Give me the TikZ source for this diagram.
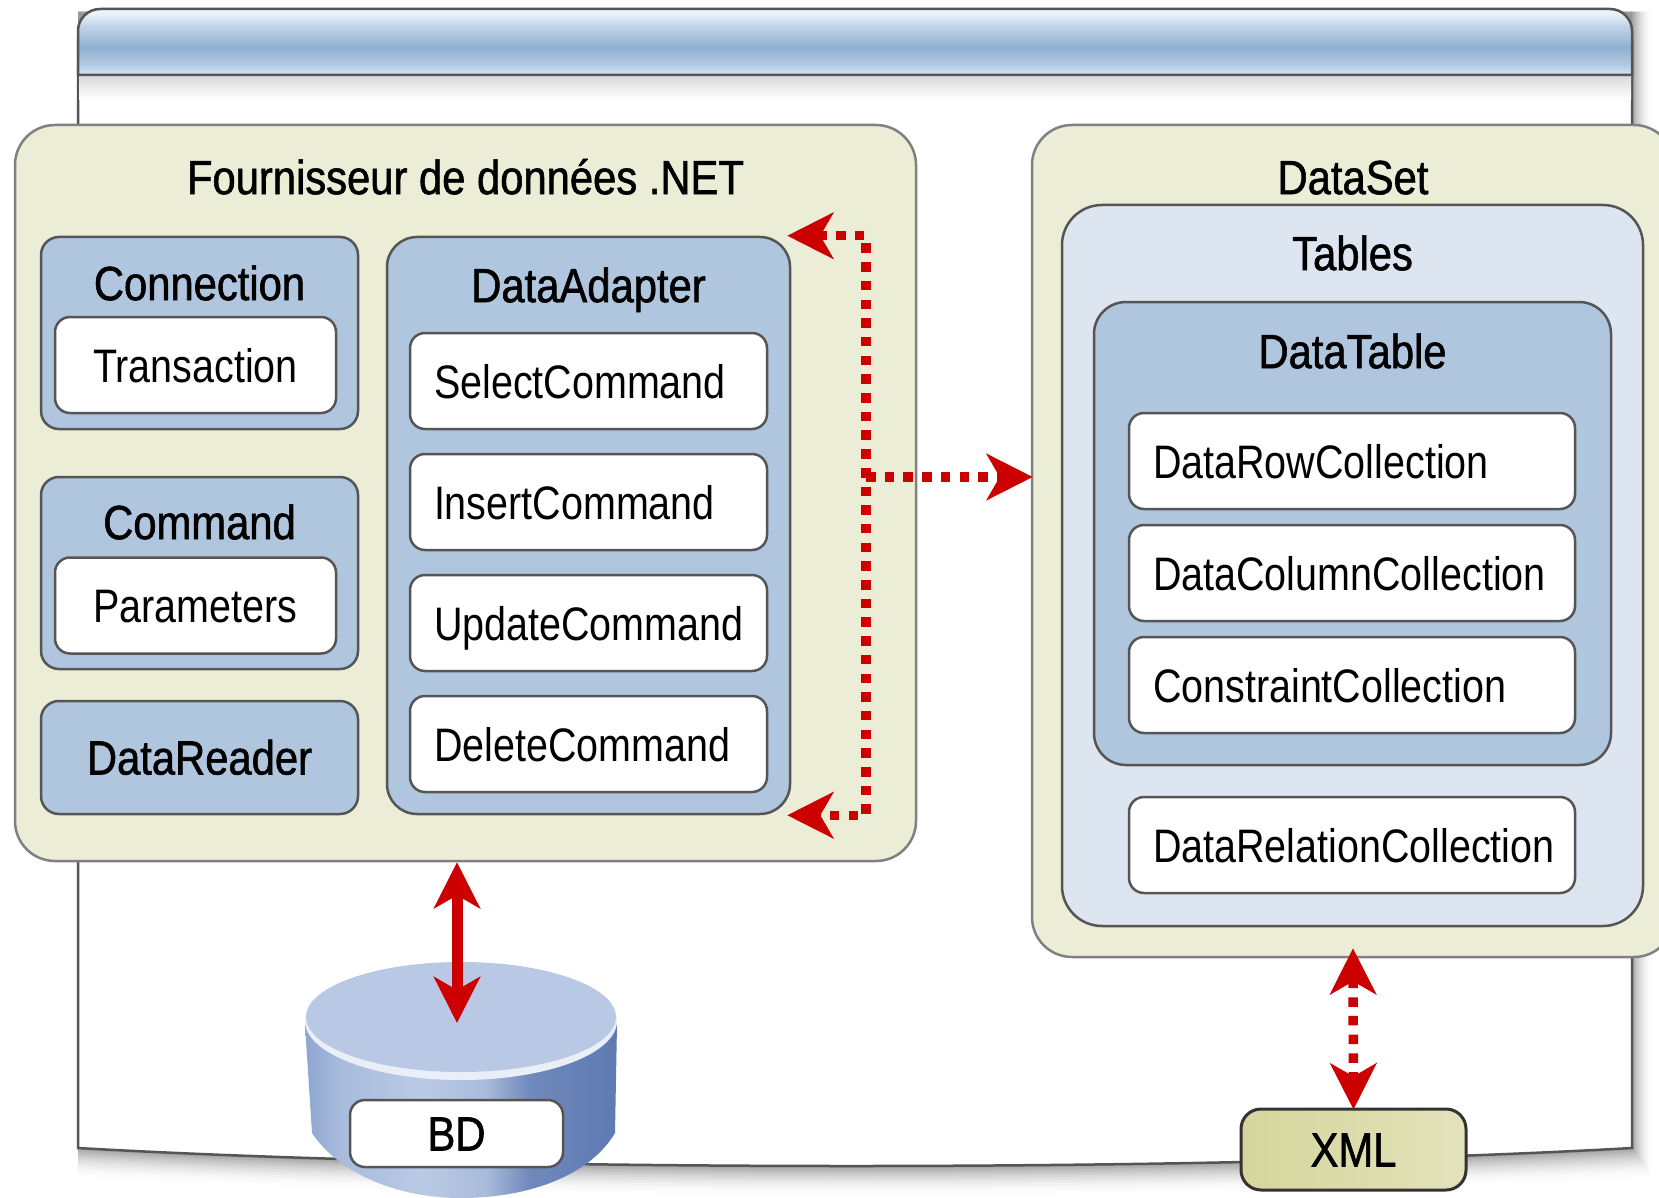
\documentclass[tikz,border=0pt]{standalone}
\usepackage{fontspec}
\setmainfont[FakeStretch=0.84]{Liberation Sans}
\newfontfamily\headfont[FakeStretch=0.87,FakeBold=1.2]{Liberation Sans}
\usepackage{tikz}
\usetikzlibrary{arrows.meta,positioning}
\definecolor{provgreen}{HTML}{EBEDD6}
\definecolor{boxblue}{HTML}{B0C6DF}
\definecolor{tablesblue}{HTML}{DDE5F0}
\definecolor{flowred}{HTML}{CC0000}
\definecolor{rimgray}{HTML}{808080}
\definecolor{edgegray}{HTML}{555555}
\definecolor{dbface}{HTML}{B9C9E5}
\definecolor{xmlleft}{HTML}{D5D59C}
\definecolor{xmlright}{HTML}{E2E3BB}
\definecolor{dbA}{HTML}{8EA6D0}
\definecolor{dbB}{HTML}{A9BCDD}
\definecolor{dbC}{HTML}{BACAE6}
\definecolor{dbD}{HTML}{A9BBDB}
\definecolor{dbE}{HTML}{7089BB}
\definecolor{dbF}{HTML}{5D7AB2}
\definecolor{barA}{HTML}{D8E6F3}
\definecolor{barB}{HTML}{B5CDE5}
\definecolor{barC}{HTML}{8FB0D0}
\definecolor{barD}{HTML}{C0D4E8}
\definecolor{barE}{HTML}{E8F0F8}
\definecolor{barF}{HTML}{F0F5FA}
\pgfdeclarehorizontalshading{dbside}{100bp}{
  color(0bp)=(dbA);
  color(25bp)=(dbA);
  color(31bp)=(dbB);
  color(44bp)=(dbC);
  color(54bp)=(dbD);
  color(61bp)=(dbE);
  color(75bp)=(dbF);
  color(100bp)=(dbF)}
\pgfdeclareverticalshading{titlebar}{100bp}{
  color(0bp)=(barA);
  color(25bp)=(barA);
  color(32bp)=(barB);
  color(46bp)=(barC);
  color(62bp)=(barD);
  color(71bp)=(barE);
  color(75bp)=(barF);
  color(100bp)=(barF)}
\tikzset{
  container/.style={draw=rimgray,line width=1.25pt,rounded corners=20pt,fill=provgreen,anchor=center,inner sep=0pt},
  bluebox/.style={draw=edgegray,line width=1.25pt,fill=boxblue,rounded corners=9pt,inner sep=0pt},
  whitebox/.style={draw=edgegray,line width=1.25pt,fill=white,rounded corners=7.5pt,minimum height=48pt,inner sep=0pt,font=\fontsize{23.5}{26}\selectfont,text height=17pt,text depth=0pt},
  leftbox/.style={whitebox,inner xsep=12pt,align=left},
  title/.style={font=\headfont\fontsize{24}{26}\selectfont,text height=17pt,text depth=0pt,inner sep=0pt},
  flowline/.style={draw=flowred,{Stealth[length=23pt,width=23pt,inset=6.5pt]}-{Stealth[length=23pt,width=23pt,inset=6.5pt]}},
  flowdots/.style={flowline,line width=4.75pt,dash pattern=on 4.75pt off 4.6pt},
  rightdots/.style={draw=flowred,-{Stealth[length=23pt,width=23pt,inset=6.5pt]},line width=4.75pt,dash pattern=on 4.75pt off 4.6pt}
}
\begin{document}
\begin{tikzpicture}[x=0.5pt,y=-0.5pt,on grid]
    \useasboundingbox (0,0) rectangle (1659,1198);
    \fill[white] (0,0) rectangle (1659,1198);

    % window behind the boxes
    \foreach \d in {32,30,...,0} {
        \pgfmathsetmacro\g{40*(1-\d/32)*(1-\d/32)}
        \pgfmathsetmacro\r{1632+0.7*\d}
        \fill[black!\g] (78,1148+\d) .. controls (500,1172+\d) and (1200,1172+\d) .. (\r,1148+\d) -- (\r,12) -- (78,12) -- cycle;
    }
    \draw[edgegray,line width=1.25pt,fill=white] (78,40) -- (78,1148) .. controls (500,1172) and (1200,1172) .. (1632,1148) -- (1632,40) -- cycle;
    \shade[top color=black!15,bottom color=white] (79,75) rectangle (1631,100);
    \draw[edgegray,line width=1.25pt,shading=titlebar] (78,75) [rounded corners=11pt] -- (78,9) -- (1632,9) [sharp corners] -- (1632,75) -- cycle;

    % left side
    \node[container,minimum width=450.5pt,minimum height=368pt] (provider) at (465.5,493) {};
    \node[title,below=18pt of provider.north] (providertitle) {Fournisseur de données .NET};

    \node[bluebox,minimum width=158.5pt,minimum height=96pt] (connection) at (199.5,333) {};
    \node[title,below=15pt of connection.north] (connectiontitle) {Connection};
    \node[whitebox,minimum width=140.5pt] (transaction) at (195.5,365) {Transaction};

    \node[bluebox,minimum width=158.5pt,minimum height=96pt] (command) at (199.5,573) {};
    \node[title,below=14.5pt of command.north] (commandtitle) {Command};
    \node[whitebox,minimum width=140.5pt] (parameters) at (195.5,605.5) {Parameters};

    \node[bluebox,title,minimum width=158.5pt,minimum height=56.5pt] (datareader) at (199.5,757.5) {DataReader};

    \node[bluebox,rounded corners=15pt,minimum width=201.5pt,minimum height=288.5pt] (adapter) at (588.5,525.5) {};
    \node[title,below=16pt of adapter.north] (adaptertitle) {DataAdapter};
    \node[leftbox,text width=154.5pt] (select) at (588.5,381) {SelectCommand};
    \node[leftbox,text width=154.5pt,below=60.5pt of select] (insert) {InsertCommand};
    \node[leftbox,text width=154.5pt,below=60.5pt of insert] (update) {UpdateCommand};
    \node[leftbox,text width=154.5pt,below=60.5pt of update] (delete) {DeleteCommand};

    % right side
    \node[container,minimum width=321pt,minimum height=416pt] (dataset) at (1353,541) {};
    \node[title,below=18pt of dataset.north] (datasettitle) {DataSet};
    \node[container,fill=tablesblue,draw=edgegray,minimum width=290.5pt,minimum height=360.5pt] (tables) at (1352.5,565.5) {};
    \node[title,below=16pt of tables.north] (tablestitle) {Tables};
    \node[bluebox,rounded corners=16pt,minimum width=258.5pt,minimum height=231.5pt] (datatable) at (1352.5,533.5) {};
    \node[title,below=16.5pt of datatable.north] (datatabletitle) {DataTable};
    \node[leftbox,text width=199pt] (rows) at (1352,461) {DataRowCollection};
    \node[leftbox,text width=199pt,below=56pt of rows] (columns) {DataColumnCollection};
    \node[leftbox,text width=199pt,below=56pt of columns] (constraints) {ConstraintCollection};
    \node[leftbox,text width=199pt,below=80pt of constraints] (relations) {DataRelationCollection};

    % database
    \path[shading=dbside] (305,1025) -- (312,1133) .. controls (340,1175) and (400,1198) .. (460,1198) .. controls (530,1198) and (590,1175) .. (615,1133) -- (617,1025) -- cycle;
    \fill[white!70!dbface] (461,1021) ellipse[x radius=156,y radius=59];
    \fill[dbface] (461,1017) ellipse[x radius=155,y radius=55];
    \node[whitebox,title,minimum width=106.5pt,minimum height=33.5pt] (bd) at (456.5,1133.5) {BD};

    % xml file
    \node[draw=black!80,line width=1.5pt,rounded corners=10pt,left color=xmlleft,right color=xmlright,title,minimum width=112.5pt,minimum height=40.5pt] (xml) at (1353.5,1149.5) {XML};

    \coordinate (bus) at (866,477);
    \coordinate (dbtop) at (457,1023);

    \draw[flowline,line width=5.5pt] (provider.south -| dbtop) -- (dbtop);
    \draw[flowdots,shorten <=-2pt,shorten >=-2pt] (adapter.north east) -| (bus) |- (adapter.south east);
    \draw[rightdots,shorten >=-1pt] (bus) -- (bus -| dataset.west);
    \draw[flowdots,shorten <=-5pt,shorten >=-1pt] (dataset.south) -- (xml.north);
\end{tikzpicture}
\end{document}
